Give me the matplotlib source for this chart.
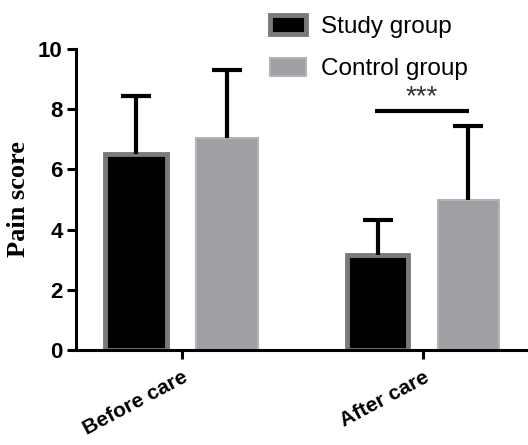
import numpy as np
import matplotlib
matplotlib.use("Agg")
import matplotlib.pyplot as plt

# data
groups = ["Before care", "After care"]
series = ["Study group", "Control group"]
study_mean = [6.5, 3.15]
study_sd = [1.95, 1.17]
control_mean = [7.03, 4.98]
control_sd = [2.27, 2.46]
y_ticks = [0, 2, 4, 6, 8, 10]
sig_text = "***"
sig_level = 7.93

plt.rcParams["font.family"] = ["Liberation Sans", "DejaVu Sans"]

fig = plt.figure(figsize=(5.28, 4.45), dpi=100)
ax = fig.add_axes([76 / 528, 1 - 350 / 445, 1 - 76 / 528, 301 / 445])

x = np.arange(len(groups))
w = 0.255
off = 0.188

err_kw = dict(elinewidth=3, capthick=3, capsize=11, ecolor="black")
b1 = ax.bar(x - off, study_mean, w, color="black", edgecolor="#7a7a7a",
            linewidth=3.5, yerr=[np.zeros(2), study_sd], error_kw=err_kw,
            label=series[0], zorder=2)
b2 = ax.bar(x + off, control_mean, w, color="#a09fa4", edgecolor="#b4b3b8",
            linewidth=1.5, yerr=[np.zeros(2), control_sd], error_kw=err_kw,
            label=series[1], zorder=2)
# only the upper caps are shown
for b in (b1, b2):
    caps = b.errorbar.lines[1]
    caps[0].set_visible(False)

# significance bar over "After care"
ax.plot([x[1] - 0.2, x[1] + 0.19], [sig_level, sig_level], color="black",
        lw=3, solid_capstyle="butt", clip_on=False)
ax.text(x[1] - 0.005, sig_level + 0.05, sig_text, ha="center", va="bottom",
        fontsize=20, color="#333333")

ax.set_xlim(-0.437, 1.435)
ax.set_ylim(0, 10)
ax.set_yticks(y_ticks)
ax.set_yticklabels([str(t) for t in y_ticks], fontsize=16, fontweight="bold")
ax.set_xticks(x)
ax.set_xticklabels(groups, fontsize=15, fontweight="bold", rotation=28,
                   ha="right", va="top", rotation_mode="anchor")
ax.tick_params(axis="both", width=2.2, length=6.5, color="black")
ax.tick_params(axis="x", pad=6)
ax.tick_params(axis="y", pad=3)
for s in ["top", "right"]:
    ax.spines[s].set_visible(False)
for s in ["left", "bottom"]:
    ax.spines[s].set_linewidth(2.2)

ax.set_ylabel("Pain score", family=["Liberation Serif", "DejaVu Serif"],
              fontweight="bold", fontsize=19, labelpad=6)

fig.legend(handles=[b1, b2], loc="upper left",
           bbox_to_anchor=(270 / 528, 1 - 15 / 445), frameon=False,
           fontsize=17.5, handlelength=1.5, handleheight=0.8,
           handletextpad=0.6, labelspacing=0.82, borderpad=0, borderaxespad=0)

fig.savefig("out.png", dpi=100)
